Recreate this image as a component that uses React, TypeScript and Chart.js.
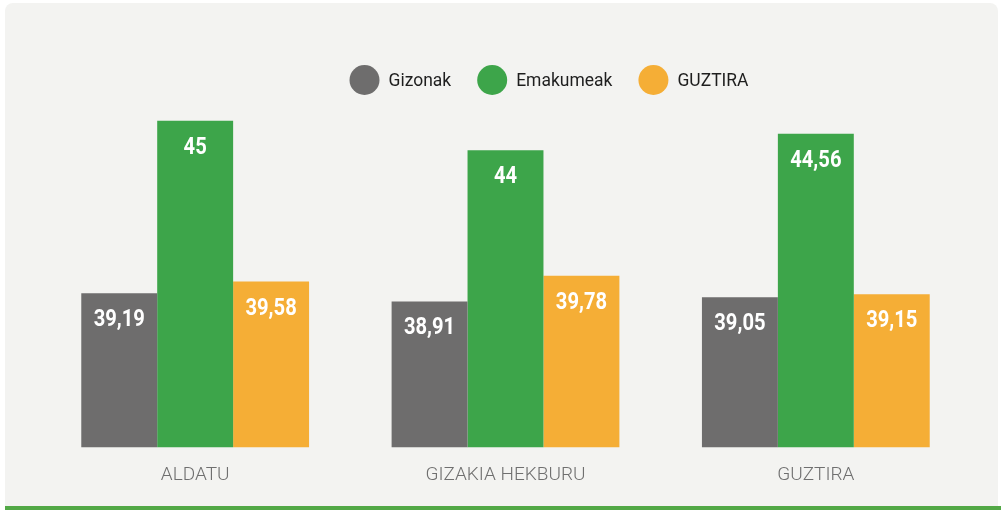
import React, { useEffect, useRef } from 'react';
import { Chart, registerables } from 'chart.js';

Chart.register(...registerables);

const categories = ['ALDATU', 'GIZAKIA HEKBURU', 'GUZTIRA'];
const seriesNames = ['Gizonak', 'Emakumeak', 'GUZTIRA'];
const gizonak = [39.19, 38.91, 39.05];
const emakumeak = [45, 44, 44.56];
const guztira = [39.58, 39.78, 39.15];
const seriesColors = ['#6e6d6d', '#3da54a', '#f5ae36'];

const FONT = 'Roboto, "DejaVu Sans", sans-serif';

const fmt = (v: number) => v.toString().replace('.', ',');

const valueLabels = {
  id: 'valueLabels',
  afterDatasetsDraw(chart: any) {
    const ctx = chart.ctx;
    chart.data.datasets.forEach((ds: any, i: number) => {
      const meta = chart.getDatasetMeta(i);
      meta.data.forEach((bar: any, j: number) => {
        const v = ds.data[j];
        ctx.save();
        ctx.translate(bar.x, bar.y + 26);
        ctx.scale(0.84, 1);
        ctx.font = `700 24px ${FONT}`;
        ctx.fillStyle = '#ffffff';
        ctx.textAlign = 'center';
        ctx.textBaseline = 'middle';
        ctx.fillText(fmt(v), 0, 1);
        ctx.restore();
      });
    });
  },
};

const customLegend = {
  id: 'customLegend',
  afterDraw(chart: any) {
    const ctx = chart.ctx;
    const cy = 80;
    const r = 15;
    const gap = 26;
    ctx.save();
    ctx.font = `400 19px ${FONT}`;
    const widths = seriesNames.map((n) => ctx.measureText(n).width * 0.92);
    const total = widths.reduce((a, w) => a + 2 * r + 9 + w, 0) + gap * (seriesNames.length - 1);
    let x = 549 - total / 2;
    seriesNames.forEach((name, i) => {
      ctx.fillStyle = seriesColors[i];
      ctx.beginPath();
      ctx.arc(x + r, cy, r, 0, Math.PI * 2);
      ctx.fill();
      ctx.save();
      ctx.translate(x + 2 * r + 9, cy);
      ctx.scale(0.92, 1);
      ctx.fillStyle = '#1e1e1e';
      ctx.textAlign = 'left';
      ctx.textBaseline = 'middle';
      ctx.fillText(name, 0, 1);
      ctx.restore();
      x += 2 * r + 9 + widths[i] + gap;
    });
    ctx.restore();
  },
};

export default function App() {
  const ref = useRef<HTMLCanvasElement | null>(null);

  useEffect(() => {
    document.body.style.margin = '0';
    const canvas = ref.current;
    if (!canvas) return;
    const chart = new Chart(canvas, {
      type: 'bar',
      data: {
        labels: categories,
        datasets: [
          { label: seriesNames[0], data: gizonak, backgroundColor: seriesColors[0] },
          { label: seriesNames[1], data: emakumeak, backgroundColor: seriesColors[1] },
          { label: seriesNames[2], data: guztira, backgroundColor: seriesColors[2] },
        ],
      },
      options: {
        animation: false,
        responsive: true,
        maintainAspectRatio: false,
        layout: { padding: { left: 40, right: 30, top: 91, bottom: 6 } },
        datasets: { bar: { categoryPercentage: 0.734, barPercentage: 1 } },
        plugins: {
          legend: { display: false },
          tooltip: { enabled: false },
        },
        scales: {
          x: {
            grid: { display: false, drawTicks: false },
            border: { display: false },
            ticks: {
              padding: 17,
              color: '#6f6f6f',
              font: { family: FONT, size: 19, weight: '300' },
            },
          },
          y: {
            display: false,
            min: 34,
            max: 46,
          },
        },
      },
      plugins: [valueLabels, customLegend],
    });
    return () => chart.destroy();
  }, []);

  return (
    <div style={{ position: 'relative', width: 1001, height: 510, background: '#ffffff', overflow: 'hidden' }}>
      <div
        style={{
          position: 'absolute',
          left: 5,
          top: 3,
          width: 993,
          height: 503,
          background: '#f3f3f1',
          borderRadius: '8px 8px 0 0',
        }}
      />
      <div style={{ position: 'absolute', left: 5, top: 506, width: 996, height: 4, background: '#52a846' }} />
      <canvas ref={ref} style={{ position: 'absolute', left: 0, top: 0, width: 1001, height: 510 }} />
    </div>
  );
}
